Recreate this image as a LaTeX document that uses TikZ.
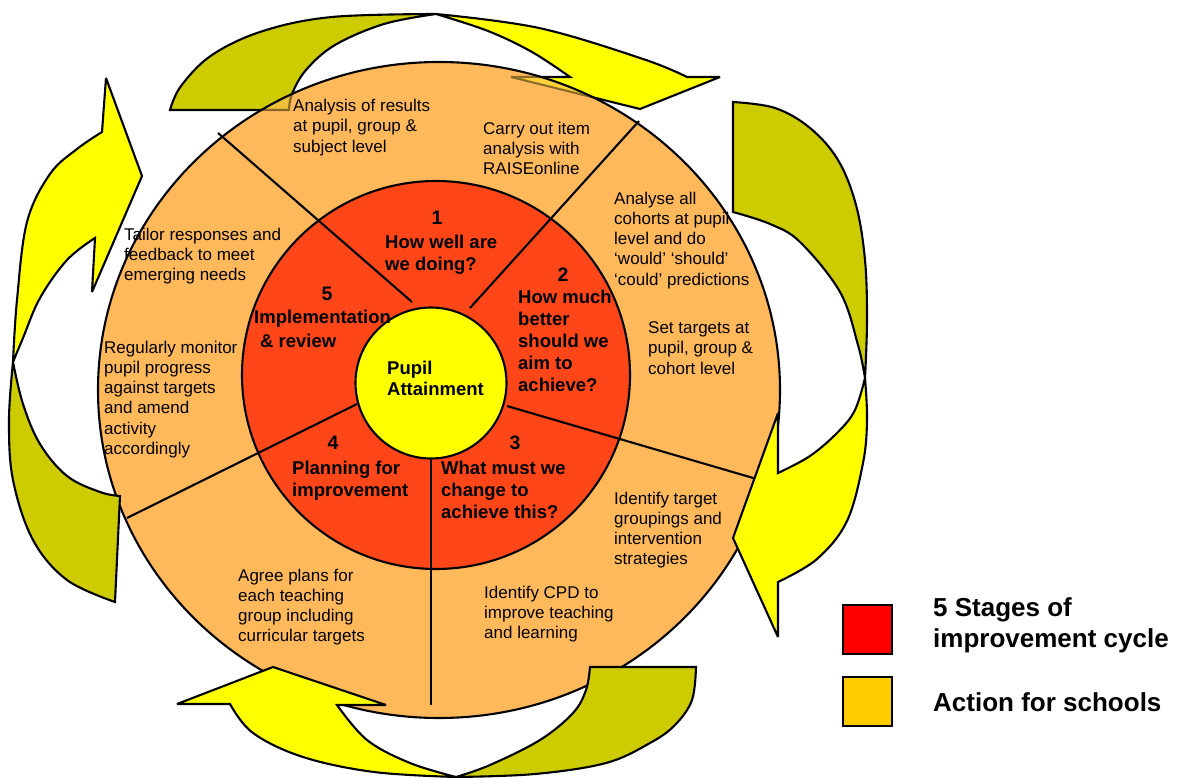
\documentclass[tikz,border=0pt]{standalone}
\usepackage{fontspec}
\setmainfont{Liberation Sans}
\definecolor{ringorange}{HTML}{FFB95A}
\definecolor{stagered}{HTML}{FF4619}
\definecolor{hubyellow}{HTML}{FFFF00}
\definecolor{arrowyellow}{HTML}{FFFF00}
\definecolor{arrowolive}{HTML}{CCCC00}
\definecolor{legred}{HTML}{FF0000}
\definecolor{leggold}{HTML}{FFCC00}
\tikzset{
  outline/.style={draw=black, line width=2.1pt, line join=miter, miter limit=4},
  sepline/.style={draw=black, line width=2.1pt},
  bodytxt/.style={font=\fontsize{17}{20.3}\selectfont, align=left, anchor=north west, inner sep=0pt},
  stagetxt/.style={font=\bfseries\fontsize{18.5}{22}\selectfont, align=left, anchor=north west, inner sep=0pt},
  stagenum/.style={font=\bfseries\fontsize{19.5}{22}\selectfont, inner sep=0pt},
  legtxt/.style={font=\bfseries\fontsize{26}{31}\selectfont, align=left, anchor=west, inner sep=0pt},
  legbox/.style={draw=black, line width=1.5pt, minimum size=49pt, inner sep=0pt},
}
\newcommand\TopOlivePath{(170,110) -- plot[smooth,tension=0.6] coordinates {(170,110) (181,86) (212,55) (263,31) (332,17) (436,14)} -- plot[smooth,tension=0.6] coordinates {(436,14) (384,24) (335,45) (306,70) (292,94) (289,110)} -- cycle}
\newcommand\TopYellowPath{(436,14) -- plot[smooth,tension=0.6] coordinates {(436,14) (539,28) (643,59) (687,77)} -- (720,77) -- (640,109) -- (511,77) -- (570,77) -- plot[smooth,tension=0.6] coordinates {(570,77) (532,52) (488,31) (436,14)} -- cycle}
\begin{document}
\begin{tikzpicture}[x=1pt,y=-1pt]
\useasboundingbox (0,0) rectangle (1189,778);

% top arrow (behind the ring)
\filldraw[fill=arrowolive, outline] \TopOlivePath;
\filldraw[fill=arrowyellow, outline] \TopYellowPath;

% outer ring
\fill[ringorange] (439,390) ellipse [x radius=341pt, y radius=328pt];
\begin{scope}
  \clip (439,390) ellipse [x radius=341pt, y radius=328pt];
  \filldraw[fill=arrowolive, outline, fill opacity=0.35, draw opacity=0.45] \TopOlivePath;
  \filldraw[fill=arrowyellow, outline, fill opacity=0.35, draw opacity=0.45] \TopYellowPath;
\end{scope}
\draw[outline] (439,390) ellipse [x radius=341pt, y radius=328pt];

% stages circle
\filldraw[fill=stagered, outline] (436,375) circle [radius=194pt];

% separators
\coordinate (s1o) at (218,133); \coordinate (s1i) at (412,302);
\coordinate (s2o) at (639,121); \coordinate (s2i) at (470,308);
\coordinate (s3i) at (507,406); \coordinate (s3o) at (760,480);
\coordinate (s4i) at (431,458); \coordinate (s4o) at (431,705);
\coordinate (s5i) at (357,404); \coordinate (s5o) at (127,518);
\draw[sepline] (s1o) -- (s1i);
\draw[sepline] (s2o) -- (s2i);
\draw[sepline] (s3i) -- (s3o);
\draw[sepline] (s4i) -- (s4o);
\draw[sepline] (s5i) -- (s5o);

% hub
\filldraw[fill=hubyellow, outline] (431,383) circle [radius=75.5pt];

% right arrow
\filldraw[fill=arrowolive, outline] (733,102) -- plot[smooth,tension=0.6] coordinates {(733,102) (775,108) (810,128) (838,160) (856,205) (865,260) (867,320) (865,378)} -- plot[smooth,tension=0.6] coordinates {(865,378) (858,345) (840,292) (800,242) (770,224) (733,212)} -- cycle;
\filldraw[fill=arrowyellow, outline] (865,378) -- plot[smooth,tension=0.6] coordinates {(865,378) (855,410) (838,432) (810,456) (778,473)} -- (778,413) -- (733,538) -- (778,637) -- (778,582) -- plot[smooth,tension=0.6] coordinates {(778,582) (817,559) (847,521) (863,463) (867,420) (865,378)} -- cycle;

% bottom arrow
\filldraw[fill=arrowolive, outline] (590,667) -- (696,667) -- plot[smooth,tension=0.6] coordinates {(696,667) (692,700) (675,725) (650,743) (606,763) (535,774) (456,777)} -- plot[smooth,tension=0.6] coordinates {(456,777) (490,765) (540,740) (573,713) (586,690) (590,667)} -- cycle;
\filldraw[fill=arrowyellow, outline] (456,777) -- plot[smooth,tension=0.6] coordinates {(456,777) (374,772) (303,757) (253,733) (230,704)} -- (177,704) -- (273,667) -- (386,705) -- (337,705) -- plot[smooth,tension=0.6] coordinates {(337,705) (367,740) (410,763) (456,777)} -- cycle;

% left arrow
\filldraw[fill=arrowolive, outline] (120,496) -- (115,602) -- plot[smooth,tension=0.6] coordinates {(115,602) (67,580) (33,540) (13,480) (9,420) (13,362)} -- plot[smooth,tension=0.6] coordinates {(13,362) (23,404) (40,444) (67,476) (100,492) (120,496)} -- cycle;
\filldraw[fill=arrowyellow, outline] (13,362) -- plot[smooth,tension=0.6] coordinates {(13,362) (17,300) (27,222) (50,174) (77,149) (102,132)} -- (106,78) -- (142,176) -- (92,292) -- (95,238) -- plot[smooth,tension=0.6] coordinates {(95,238) (67,260) (40,298) (23,338) (13,362)} -- cycle;

% action texts
\node[bodytxt] (t1) at (293,99) {Analysis of results\\at pupil, group \&\\subject level};
\node[bodytxt] (t2) at (483,121.5) {Carry out item\\analysis with\\RAISEonline};
\node[bodytxt] (t3) at (614,191.5) {Analyse all\\cohorts at pupil\\level and do\\‘would’ ‘should’\\‘could’ predictions};
\node[bodytxt] (t4) at (648,321.5) {Set targets at\\pupil, group \&\\cohort level};
\node[bodytxt] (t5) at (614,491.5) {Identify target\\groupings and\\intervention\\strategies};
\node[bodytxt] (t6) at (484,585.5) {Identify CPD to\\improve teaching\\and learning};
\node[bodytxt] (t7) at (238,568.5) {Agree plans for\\each teaching\\group including\\curricular targets};
\node[bodytxt] (t8) at (104,340.5) {Regularly monitor\\pupil progress\\against targets\\and amend\\activity\\accordingly};
\node[bodytxt] (t9) at (124,227.5) {Tailor responses and\\feedback to meet\\emerging needs};

% stage texts
\node[stagenum] (n1) at (437,218) {1};
\node[stagetxt] (q1) at (385,235) {How well are\\we doing?};
\node[stagenum] (n2) at (563,275) {2};
\node[stagetxt] (q2) at (518,290) {How much\\better\\should we\\aim to\\achieve?};
\node[stagenum] (n3) at (515,443) {3};
\node[stagetxt] (q3) at (441,461) {What must we\\change to\\achieve this?};
\node[stagenum] (n4) at (333,443) {4};
\node[stagetxt] (q4) at (292,461) {Planning for\\improvement};
\node[stagenum] (n5) at (327,294) {5};
\node[stagetxt] (q5a) at (254,310) {Implementation};
\node[stagetxt] (q5b) at (260,334) {\& review};
\node[stagetxt, font=\bfseries\fontsize{18.5}{21}\selectfont] (hub) at (387,361) {Pupil\\Attainment};

% legend
\node[legbox, fill=legred] (lr) at (867.5,629.5) {};
\node[legbox, fill=leggold] (lg) at (867.5,701.5) {};
\node[legtxt] (lrt) at (933,625) {5 Stages of\\improvement cycle};
\node[legtxt] (lgt) at (933,702) {Action for schools};
\end{tikzpicture}
\end{document}
